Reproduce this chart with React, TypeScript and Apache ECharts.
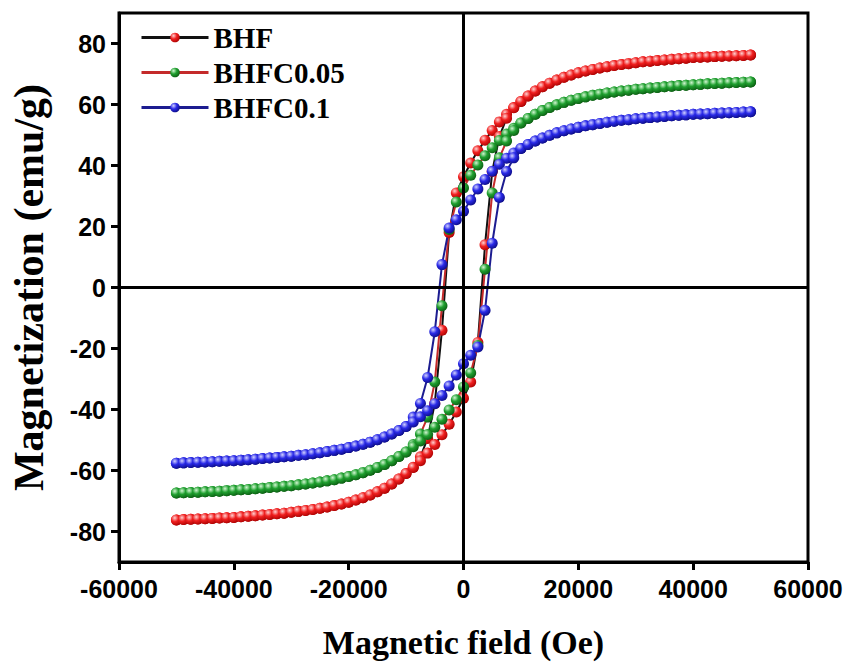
import React, { useEffect, useRef } from "react";
import * as echarts from "echarts";

// Field values (Oe) along the descending sweep, +50000 -> -50000
const fieldDown = [
  50000, 48750, 47500, 46250, 45000, 43750, 42500, 41250, 40000, 38750, 37500, 36250, 35000, 33750, 32500, 31250,
  30000, 28750, 27500, 26250, 25000, 23750, 22500, 21250, 20000, 18750, 17500, 16250, 15000, 13750, 12500, 11250,
  10000, 8750, 7500, 6250, 5000, 3750, 2500, 1250, 0, -1250, -2500, -3750, -5000, -6250, -7500, -8750,
  -10000, -11250, -12500, -13750, -15000, -16250, -17500, -18750, -20000, -21250, -22500, -23750, -25000, -26250,
  -27500, -28750, -30000, -31250, -32500, -33750, -35000, -36250, -37500, -38750, -40000, -41250, -42500, -43750,
  -45000, -46250, -47500, -48750, -50000,
];
// Field values (Oe) along the ascending sweep, -50000 -> +50000
const fieldUp = [
  -50000, -48750, -47500, -46250, -45000, -43750, -42500, -41250, -40000, -38750, -37500, -36250, -35000, -33750,
  -32500, -31250, -30000, -28750, -27500, -26250, -25000, -23750, -22500, -21250, -20000, -18750, -17500, -16250,
  -15000, -13750, -12500, -11250, -10000, -8750, -7500, -6250, -5000, -3750, -2500, -1250, 0, 1250, 2500, 3750,
  5000, 6250, 7500, 8750, 10000, 11250, 12500, 13750, 15000, 16250, 17500, 18750, 20000, 21250, 22500, 23750,
  25000, 26250, 27500, 28750, 30000, 31250, 32500, 33750, 35000, 36250, 37500, 38750, 40000, 41250, 42500, 43750,
  45000, 46250, 47500, 48750, 50000,
];

// BHF
const bhfDown = [
  76.2, 76.1, 76.0, 75.9, 75.8, 75.7, 75.6, 75.5, 75.4, 75.2, 75.0, 74.8, 74.6, 74.4, 74.2, 74.0, 73.7, 73.4, 73.1,
  72.8, 72.4, 72.0, 71.5, 71.0, 70.4, 69.7, 68.9, 68.0, 67.0, 65.8, 64.4, 62.8, 61.0,
  59.0, 56.8, 54.3, 51.5, 48.3, 44.8, 40.8, 36.3, 31.0, 18.0, -14.0, -38.0, -49.5, -55.5, -58.9,
  -61.0, -62.8, -64.4, -65.8, -67.0, -68.0, -68.9, -69.7, -70.4, -71.0, -71.5, -72.0, -72.4, -72.8, -73.1, -73.4,
  -73.7, -74.0, -74.2, -74.4, -74.6, -74.8, -75.0, -75.2, -75.4, -75.5, -75.6, -75.7, -75.8, -75.9, -76.0, -76.1, -76.2,
];
const bhfUp = [
  -76.2, -76.1, -76.0, -75.9, -75.8, -75.7, -75.6, -75.5, -75.4, -75.2, -75.0, -74.8, -74.6, -74.4, -74.2, -74.0,
  -73.7, -73.4, -73.1, -72.8, -72.4, -72.0, -71.5, -71.0, -70.4, -69.7, -68.9, -68.0, -67.0, -65.8, -64.4, -62.8, -61.0,
  -59.0, -56.8, -54.3, -51.5, -48.3, -44.8, -40.8, -36.3, -31.0, -18.0, 14.0, 38.0, 49.5, 55.5, 58.9,
  61.0, 62.8, 64.4, 65.8, 67.0, 68.0, 68.9, 69.7, 70.4, 71.0, 71.5, 72.0, 72.4, 72.8, 73.1, 73.4, 73.7, 74.0, 74.2,
  74.4, 74.6, 74.8, 75.0, 75.2, 75.4, 75.5, 75.6, 75.7, 75.8, 75.9, 76.0, 76.1, 76.2,
];

// BHFC0.05
const bhfc005Down = [
  67.4, 67.3, 67.2, 67.1, 67.0, 66.9, 66.8, 66.6, 66.5, 66.3, 66.2, 66.0, 65.8, 65.6, 65.4, 65.2, 65.0, 64.7, 64.4,
  64.1, 63.8, 63.4, 63.0, 62.5, 62.0, 61.4, 60.7, 59.9, 59.0, 58.0, 56.8, 55.4, 53.9,
  52.2, 50.3, 48.2, 45.8, 43.2, 40.2, 36.8, 32.6, 28.0, 19.0, -6.0, -31.0, -42.5, -48.0, -51.5,
  -53.9, -55.4, -56.8, -58.0, -59.0, -59.9, -60.7, -61.4, -62.0, -62.5, -63.0, -63.4, -63.8, -64.1, -64.4, -64.7,
  -65.0, -65.2, -65.4, -65.6, -65.8, -66.0, -66.2, -66.3, -66.5, -66.6, -66.8, -66.9, -67.0, -67.1, -67.2, -67.3, -67.4,
];
const bhfc005Up = [
  -67.4, -67.3, -67.2, -67.1, -67.0, -66.9, -66.8, -66.6, -66.5, -66.3, -66.2, -66.0, -65.8, -65.6, -65.4, -65.2,
  -65.0, -64.7, -64.4, -64.1, -63.8, -63.4, -63.0, -62.5, -62.0, -61.4, -60.7, -59.9, -59.0, -58.0, -56.8, -55.4, -53.9,
  -52.2, -50.3, -48.2, -45.8, -43.2, -40.2, -36.8, -32.6, -28.0, -19.0, 6.0, 31.0, 42.5, 48.0, 51.5,
  53.9, 55.4, 56.8, 58.0, 59.0, 59.9, 60.7, 61.4, 62.0, 62.5, 63.0, 63.4, 63.8, 64.1, 64.4, 64.7, 65.0, 65.2, 65.4,
  65.6, 65.8, 66.0, 66.2, 66.3, 66.5, 66.6, 66.8, 66.9, 67.0, 67.1, 67.2, 67.3, 67.4,
];

// BHFC0.1
const bhfc01Down = [
  57.6, 57.5, 57.4, 57.3, 57.2, 57.1, 57.0, 56.9, 56.8, 56.6, 56.5, 56.3, 56.1, 55.9, 55.7, 55.5, 55.3, 55.0, 54.8,
  54.5, 54.2, 53.8, 53.4, 53.0, 52.5, 52.0, 51.4, 50.7, 49.9, 49.0, 48.0, 46.9, 45.6,
  44.1, 42.4, 40.4, 38.1, 35.4, 32.3, 28.7, 25.0, 22.2, 19.5, 7.5, -14.5, -29.5, -38.0, -42.5,
  -45.6, -46.9, -48.0, -49.0, -49.9, -50.7, -51.4, -52.0, -52.5, -53.0, -53.4, -53.8, -54.2, -54.5, -54.8, -55.0,
  -55.3, -55.5, -55.7, -55.9, -56.1, -56.3, -56.5, -56.6, -56.8, -56.9, -57.0, -57.1, -57.2, -57.3, -57.4, -57.5, -57.6,
];
const bhfc01Up = [
  -57.6, -57.5, -57.4, -57.3, -57.2, -57.1, -57.0, -56.9, -56.8, -56.6, -56.5, -56.3, -56.1, -55.9, -55.7, -55.5,
  -55.3, -55.0, -54.8, -54.5, -54.2, -53.8, -53.4, -53.0, -52.5, -52.0, -51.4, -50.7, -49.9, -49.0, -48.0, -46.9, -45.6,
  -44.1, -42.4, -40.4, -38.1, -35.4, -32.3, -28.7, -25.0, -22.2, -19.5, -7.5, 14.5, 29.5, 38.0, 42.5,
  45.6, 46.9, 48.0, 49.0, 49.9, 50.7, 51.4, 52.0, 52.5, 53.0, 53.4, 53.8, 54.2, 54.5, 54.8, 55.0, 55.3, 55.5, 55.7,
  55.9, 56.1, 56.3, 56.5, 56.6, 56.8, 56.9, 57.0, 57.1, 57.2, 57.3, 57.4, 57.5, 57.6,
];

const seriesNames = ["BHF", "BHFC0.05", "BHFC0.1"];
const yTicks = [-80, -60, -40, -20, 0, 20, 40, 60, 80];

const SANS = '"Liberation Sans", Arial, sans-serif';
const SERIF = '"Liberation Serif", "Times New Roman", serif';

function ball(light: string, mid: string, dark: string) {
  return new echarts.graphic.RadialGradient(0.35, 0.32, 0.75, [
    { offset: 0, color: light },
    { offset: 0.45, color: mid },
    { offset: 1, color: dark },
  ]);
}

function loop(down: number[], up: number[]) {
  const pts: number[][] = [];
  fieldDown.forEach((h, i) => pts.push([h, down[i]]));
  fieldUp.forEach((h, i) => pts.push([h, up[i]]));
  return pts;
}

export default function App() {
  const ref = useRef<HTMLDivElement>(null);
  useEffect(() => {
    document.body.style.margin = "0";
    const chart = echarts.init(ref.current!, null, { renderer: "svg" });
    const styles = [
      { line: "#111111", m: ball("#ffd0d0", "#f02020", "#a80000") },
      { line: "#c42a2a", m: ball("#d0f5d0", "#20a030", "#0a5a10") },
      { line: "#1c1c90", m: ball("#d0d0ff", "#2a2ae8", "#0a0a80") },
    ];
    const datasets = [loop(bhfDown, bhfUp), loop(bhfc005Down, bhfc005Up), loop(bhfc01Down, bhfc01Up)];
    const axisLabelBase = { color: "#000", fontFamily: SANS, fontWeight: "bold" as const, fontSize: 25 };
    chart.setOption({
      animation: false,
      backgroundColor: "#fff",
      grid: { left: 118, right: 44, top: 13, bottom: 100, show: true, borderColor: "#000", borderWidth: 3 },
      legend: {
        orient: "vertical",
        left: 140,
        top: 23,
        padding: 0,
        itemWidth: 67,
        itemHeight: 12,
        itemGap: 6,
        data: seriesNames,
        lineStyle: { width: 3 },
        textStyle: { fontFamily: SERIF, fontWeight: "bold", fontSize: 29, color: "#000", lineHeight: 29 },
      },
      xAxis: {
        type: "value",
        min: -60000,
        max: 60000,
        interval: 20000,
        splitLine: { show: false },
        axisLine: { onZero: false, lineStyle: { color: "#000", width: 3 } },
        axisTick: { inside: false, length: 8, lineStyle: { color: "#000", width: 3 } },
        axisLabel: { ...axisLabelBase, margin: 14, formatter: (v: number) => String(v) },
        name: "Magnetic field (Oe)",
        nameLocation: "middle",
        nameGap: 63,
        nameTextStyle: { fontFamily: SERIF, fontWeight: "bold", fontSize: 34, color: "#000" },
      },
      yAxis: {
        type: "value",
        min: -90,
        max: 90,
        splitLine: { show: false },
        axisLine: { onZero: false, lineStyle: { color: "#000", width: 3 } },
        axisTick: { inside: false, length: 8, customValues: yTicks, lineStyle: { color: "#000", width: 3 } },
        axisLabel: { ...axisLabelBase, margin: 13, customValues: yTicks, formatter: (v: number) => String(v) },
        name: "Magnetization (emu/g)",
        nameLocation: "middle",
        nameGap: 69,
        nameTextStyle: { fontFamily: SERIF, fontWeight: "bold", fontSize: 42, color: "#000" },
      },
      series: [
        {
          type: "line",
          name: "zero",
          data: [[0, 0]],
          showSymbol: false,
          lineStyle: { opacity: 0 },
          silent: true,
          markLine: {
            silent: true,
            symbol: "none",
            label: { show: false },
            lineStyle: { color: "#000", width: 3, type: "solid" },
            data: [{ xAxis: 0 }, { yAxis: 0 }],
          },
        },
        ...seriesNames.map((name, i) => ({
          type: "line",
          name,
          data: datasets[i],
          symbol: "circle",
          symbolSize: 11,
          showAllSymbol: true,
          lineStyle: { color: styles[i].line, width: 2 },
          itemStyle: { color: styles[i].m },
          emphasis: { disabled: true },
        })),
      ],
    });
    return () => chart.dispose();
  }, []);
  return <div ref={ref} style={{ width: 852, height: 664 }} />;
}
